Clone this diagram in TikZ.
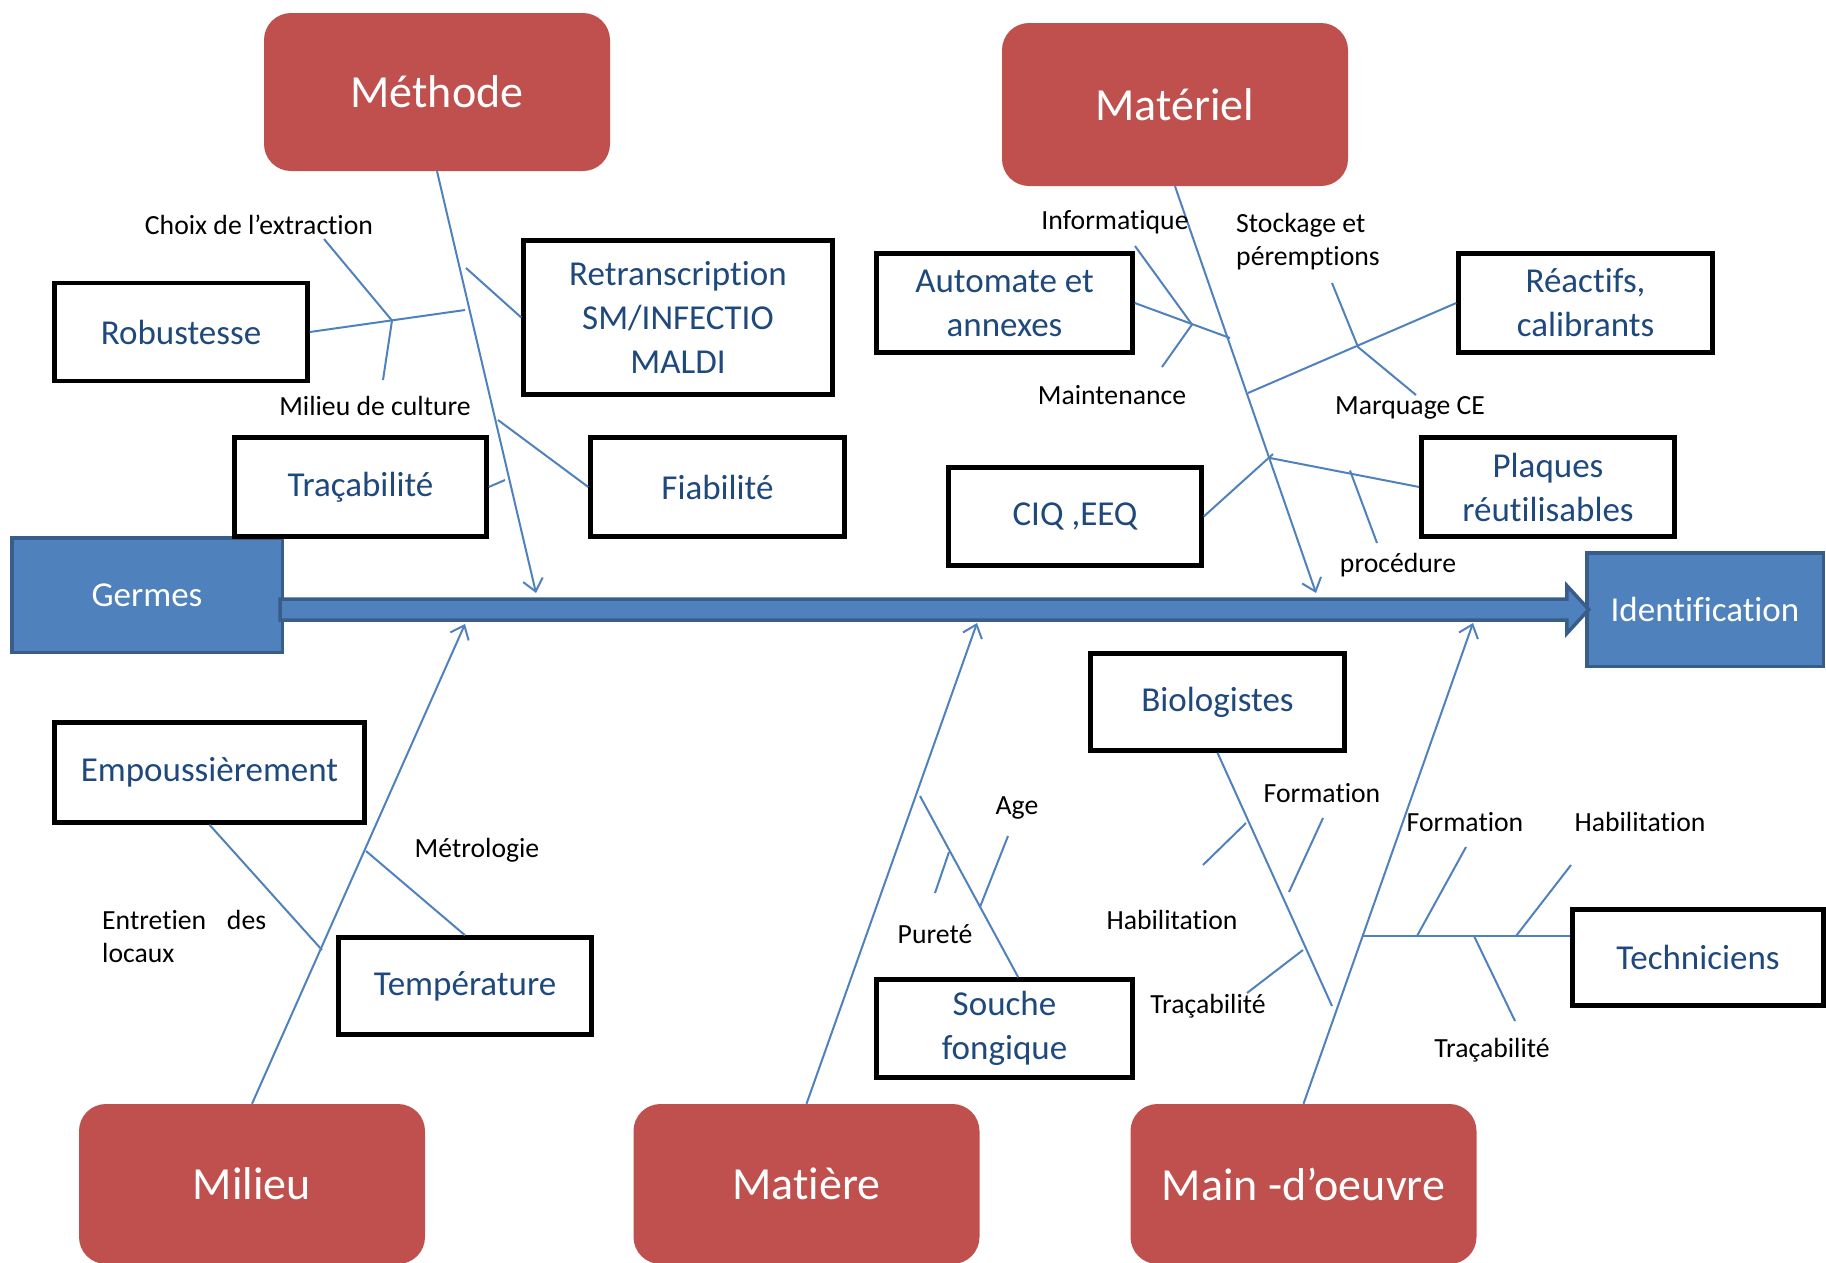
\documentclass[tikz,border=0pt]{standalone}
\usepackage{fontspec}
\setmainfont{Carlito}[Ligatures=NoCommon]
\usetikzlibrary{arrows.meta}
\definecolor{catred}{HTML}{C0504D}
\definecolor{accblue}{HTML}{4F81BD}
\definecolor{accdark}{HTML}{385D8A}
\definecolor{txtblue}{HTML}{1F497D}
\tikzset{
 cat/.style={fill=catred, rounded corners=27pt, text=white, font=\fontsize{46}{52}\selectfont, minimum width=346pt, minimum height=160pt, inner sep=0pt},
 bx/.style={draw=black, line width=4.5pt, fill=white, text=txtblue, font=\fontsize{35}{44}\selectfont, align=center, inner sep=0pt},
 hd/.style={fill=accblue, draw=accdark, line width=3.5pt, text=white, font=\fontsize{35}{42}\selectfont, inner sep=0pt},
 lbl/.style={font=\fontsize{27.7}{33}\selectfont, inner sep=0pt},
 br/.style={draw=accblue, line width=2pt},
 spine/.style={br, -{Straight Barb[length=12pt,width=20pt]}},
 bigarr/.style={fill=accblue, draw=accdark, line width=3.5pt}
}
\begin{document}
\begin{tikzpicture}[x=1pt,y=-1pt]
\useasboundingbox (0,0) rectangle (1826,1262);

% category boxes
\node[cat, minimum height=158pt] (meth) at (437,92) {Méthode};
\node[cat, minimum height=163pt] (mat) at (1175,104.5) {Matériel};
\node[cat] (mil) at (252,1184) {Milieu};
\node[cat] (matiere) at (806.5,1184) {Matière};
\node[cat] (mdo) at (1303.5,1184) {Main -d’oeuvre};

% head and tail
\node[hd, minimum width=270.5pt, minimum height=114.5pt] (germ) at (147,595) {Germes};
\node[hd, minimum width=236.5pt, minimum height=113.5pt] (ident) at (1705,609.5) {Identification};
\draw[bigarr] (germ.east |- ident.west) ++(-4,-10.5) -- ++(1286.75,0) -- ++(0,-13.5) -- ++(22,24) -- ++(-22,24) -- ++(0,-13.5) -- ++(-1286.75,0) -- cycle;

% spines
\coordinate (methE) at (536,593);
\coordinate (matE) at (1316,593);
\coordinate (milE) at (465,624);
\coordinate (matiereE) at (977,623);
\coordinate (mdoE) at (1473,623);
\draw[spine] (meth.south) -- (methE);
\draw[spine] (mat.south) -- (matE);
\draw[spine] (mil.north) -- (milE);
\draw[spine] (matiere.north) -- (matiereE);
\draw[spine] (mdo.north) -- (mdoE);

% Methode branches
\coordinate (mR) at (465,310);
\coordinate (mJ) at (392,320.5);
\coordinate (mChoix) at (324,239);
\coordinate (mMil) at (383,380);
\coordinate (mRt) at (466,268);
\coordinate (mF) at (498,420);
\coordinate (mT) at (505,480);
\draw[br] (mChoix) -- (mJ) -- (mMil);

% Materiel branches
\coordinate (aJ) at (1230,338);
\coordinate (iS) at (1135,246);
\coordinate (iJ) at (1192,324.5);
\coordinate (maE) at (1162,367);
\coordinate (rS) at (1248,393);
\coordinate (sS) at (1332,283);
\coordinate (sJ) at (1358,347);
\coordinate (ceE) at (1416,395);
\coordinate (cJ) at (1273,454);
\coordinate (pS) at (1270,458);
\coordinate (prS) at (1350,470.5);
\coordinate (prE) at (1377,543);
\draw[br] (iS) -- (iJ) -- (maE);
\draw[br] (sS) -- (sJ) -- (ceE);
\draw[br] (prS) -- (prE);

% Milieu branches
\coordinate (eE) at (322,950);
\coordinate (tS) at (366,851);

% Matiere branches
\coordinate (soS) at (920,796);
\coordinate (puS) at (949,852);
\coordinate (puE) at (935,893);
\coordinate (agS) at (1008,836);
\coordinate (agE) at (980,907);
\draw[br] (puS) -- (puE);
\draw[br] (agS) -- (agE);

% Main-d'oeuvre branches
\coordinate (bE) at (1332,1006);
\coordinate (bh1) at (1246,823);
\coordinate (bh2) at (1203,865);
\coordinate (bf1) at (1323,818);
\coordinate (bf2) at (1289,892);
\coordinate (bt1) at (1303,950);
\coordinate (bt2) at (1247,993);
\draw[br] (bh1) -- (bh2);
\draw[br] (bf1) -- (bf2);
\draw[br] (bt1) -- (bt2);
\coordinate (tJ) at (1362.5,936);
\coordinate (tf1) at (1466,847);
\coordinate (tf2) at (1417,936);
\coordinate (th1) at (1571,865);
\coordinate (th2) at (1516,936);
\coordinate (tt1) at (1474,936);
\coordinate (tt2) at (1515,1021);
\draw[br] (tf1) -- (tf2);
\draw[br] (th1) -- (th2);
\draw[br] (tt1) -- (tt2);

% boxes
\node[bx, minimum width=253pt, minimum height=98pt] (rob) at (181,332) {Robustesse};
\node[bx, minimum width=309pt, minimum height=154pt] (retr) at (678,317.5) {Retranscription\\SM/INFECTIO\\MALDI};
\node[bx, minimum width=252pt, minimum height=99pt] (trac) at (360.5,487) {Traçabilité};
\node[bx, minimum width=254pt, minimum height=99pt] (fiab) at (717.5,487) {Fiabilité};
\node[bx, minimum width=256pt, minimum height=99pt] (auto) at (1004.5,303) {Automate et\\annexes};
\node[bx, minimum width=254pt, minimum height=99pt] (reac) at (1585.5,303) {Réactifs,\\calibrants};
\node[bx, minimum width=253pt, minimum height=98pt] (ciq) at (1075,516.5) {CIQ ,EEQ};
\node[bx, minimum width=253pt, minimum height=99pt] (plaq) at (1548,487) {Plaques\\réutilisables};
\node[bx, minimum width=310pt, minimum height=100pt] (emp) at (209.5,772.5) {Empoussièrement};
\node[bx, minimum width=253pt, minimum height=97pt] (temp) at (465,986) {Température};
\node[bx, minimum width=254pt, minimum height=97pt] (bio) at (1217.5,702) {Biologistes};
\node[bx, minimum width=256pt, minimum height=98pt] (souche) at (1004.5,1028.5) {Souche\\fongique};
\node[bx, minimum width=251pt, minimum height=96pt] (tech) at (1698,957.5) {Techniciens};

% branch connectors to boxes
\draw[br] (rob.east) -- (mR);
\draw[br] (mRt) -- (retr.west);
\draw[br] (mF) -- (fiab.west);
\draw[br] (trac.east) -- (mT);
\draw[br] (auto.east) -- (aJ);
\draw[br] (rS) -- (reac.west);
\draw[br] (ciq.east) -- (cJ);
\draw[br] (pS) -- (plaq.west);
\draw[br] (emp.south) -- (eE);
\draw[br] (tS) -- (temp.north);
\draw[br] (soS) -- (souche.75);
\draw[br] (bio.south) -- (bE);
\draw[br] (tJ) -- (tJ -| tech.west);

% labels
\node[lbl] (lChoix) at (259,225) {Choix de l’extraction};
\node[lbl] (lMilc) at (375,406) {Milieu de culture};
\node[lbl] (lInfo) at (1115,222) {Informatique};
\node[lbl, align=left, anchor=west] (lStock) at (1236,241.5) {Stockage et\\péremptions};
\node[lbl] (lMaint) at (1112,395) {Maintenance};
\node[lbl] (lMarq) at (1410,408) {Marquage CE};
\node[lbl] (lProc) at (1398,565) {procédure};
\node[lbl] (lMetro) at (477,850) {Métrologie};
\node[lbl, align=left, anchor=west] (lEntr) at (102,936) {Entretien\hspace{0.75em}des\\locaux};
\node[lbl] (lAge) at (1017,808) {Age};
\node[lbl] (lPur) at (935,934) {Pureté};
\node[lbl] (lForm1) at (1322,793) {Formation};
\node[lbl] (lHab1) at (1172,920) {Habilitation};
\node[lbl] (lTrac1) at (1208,1006) {Traçabilité};
\node[lbl] (lForm2) at (1465,822) {Formation};
\node[lbl] (lHab2) at (1640,822) {Habilitation};
\node[lbl] (lTrac2) at (1492,1050) {Traçabilité};
\end{tikzpicture}
\end{document}
